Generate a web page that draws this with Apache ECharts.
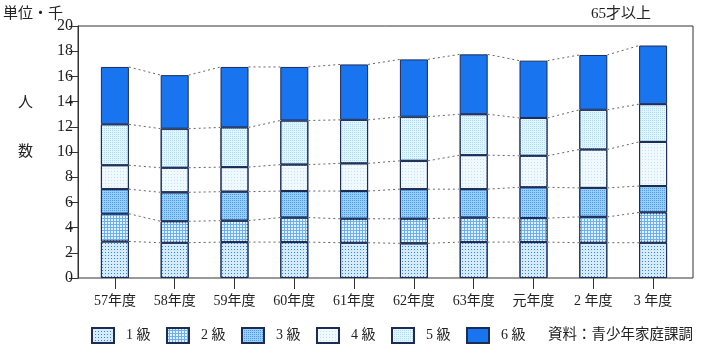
<!DOCTYPE html>
<html><head><meta charset="utf-8">
<script src="https://cdn.jsdelivr.net/npm/echarts@6/dist/echarts.min.js"></script>
<style>html,body{margin:0;padding:0;background:#fff}#c{width:704px;height:355px}</style>
</head><body><div id="c"></div>
<script>
const categories = ['57年度','58年度','59年度','60年度','61年度','62年度','63年度','元年度','2 年度','3 年度'];
const seriesNames = ['1 級','2 級','3 級','4 級','5 級','6 級'];
const lv1 = [2.9, 2.8, 2.85, 2.85, 2.8, 2.75, 2.85, 2.85, 2.8, 2.8];
const lv2 = [2.2, 1.7, 1.7, 1.95, 1.9, 1.95, 1.95, 1.9, 2.05, 2.4];
const lv3 = [1.95, 2.3, 2.3, 2.1, 2.2, 2.35, 2.25, 2.45, 2.3, 2.1];
const lv4 = [1.9, 1.95, 1.95, 2.1, 2.2, 2.25, 2.7, 2.5, 3.05, 3.5];
const lv5 = [3.25, 3.1, 3.15, 3.5, 3.45, 3.5, 3.25, 3.0, 3.15, 3.0];
const lv6 = [4.55, 4.25, 4.8, 4.25, 4.4, 4.55, 4.75, 4.55, 4.35, 4.65];
const yTicks = [0, 20, 2];

const levels = [lv1, lv2, lv3, lv4, lv5, lv6];
const BAR_W = 28;
const FONT = '"Liberation Serif", "Noto Sans CJK JP", serif';
const CJK = '"Noto Sans CJK JP", sans-serif';
const border = '#1d2c55';

const styles = [
  {color: '#d6ebfc', decal: {symbol: 'rect', symbolSize: 1, color: '#2f86f0', dashArrayX: [1, 2], dashArrayY: [1, 2]}},
  {color: '#6cb0f0', decal: {symbol: 'rect', symbolSize: 1, color: '#e2f1fe', dashArrayX: [2, 1], dashArrayY: [2, 1]}},
  {color: '#9dcef5', decal: {symbol: 'rect', symbolSize: 1, color: '#4f9cec', dashArrayX: [1, 1], dashArrayY: [1, 1]}},
  {color: '#f0f9ff', decal: {symbol: 'rect', symbolSize: 1, color: '#c2e3fa', dashArrayX: [1, 2], dashArrayY: [1, 2]}},
  {color: '#e4f5fd', decal: {symbol: 'rect', symbolSize: 1, color: '#b0dcf7', dashArrayX: [1, 1], dashArrayY: [1, 1]}},
  {color: '#1874ef'}
];

const barSeries = levels.map((arr, k) => ({
  name: seriesNames[k], type: 'bar', stack: 'a', xAxisIndex: 1, yAxisIndex: 1,
  barWidth: BAR_W, data: arr, silent: true,
  itemStyle: Object.assign({borderColor: border, borderWidth: 1}, styles[k])
}));

function cum(i) {
  const out = []; let s = 0;
  for (let k = 0; k < levels.length; k++) { s += levels[k][i]; out.push(s); }
  return out;
}

const linkSeries = {
  type: 'custom', xAxisIndex: 1, yAxisIndex: 1, silent: true, z: 1,
  data: categories.slice(0, -1).map((c, i) => [i]),
  renderItem: function (params, api) {
    const i = api.value(0);
    const a = cum(i), b = cum(i + 1);
    const children = a.map((v, k) => {
      const p1 = api.coord([i, v]);
      const p2 = api.coord([i + 1, b[k]]);
      return {type: 'line', shape: {x1: p1[0] + BAR_W / 2, y1: p1[1], x2: p2[0] - BAR_W / 2, y2: p2[1]},
        style: {stroke: '#666', lineWidth: 1, lineDash: [2, 3]}};
    });
    return {type: 'group', children: children};
  }
};

const chart = echarts.init(document.getElementById('c'), null, {renderer: 'canvas'});
chart.setOption({
  animation: false,
  backgroundColor: '#fff',
  grid: [
    {left: 78, right: 11, top: 26, bottom: 77, show: true, borderColor: '#333', borderWidth: 1, backgroundColor: 'transparent'},
    {left: 85, right: 21, top: 26, bottom: 77}
  ],
  xAxis: [
    {gridIndex: 0, type: 'value', show: false, min: 0, max: 1},
    {gridIndex: 1, type: 'category', data: categories,
      axisLine: {show: false},
      axisTick: {show: true, alignWithLabel: true, length: 11, lineStyle: {color: '#333'}},
      axisLabel: {margin: 16, fontSize: 14, color: '#222', fontFamily: FONT}}
  ],
  yAxis: [
    {gridIndex: 0, type: 'value', min: yTicks[0], max: yTicks[1], interval: yTicks[2],
      axisLine: {show: true, lineStyle: {color: '#333'}},
      axisTick: {show: true, length: 9, lineStyle: {color: '#333'}},
      axisLabel: {margin: 5, fontSize: 16, color: '#222', fontFamily: FONT},
      splitLine: {show: false}},
    {gridIndex: 1, type: 'value', min: yTicks[0], max: yTicks[1], show: false, splitLine: {show: false}}
  ],
  legend: {
    data: seriesNames, left: 86, top: 322, icon: 'rect', itemWidth: 22, itemHeight: 15, itemGap: 15.5,
    selectedMode: false,
    textStyle: {fontSize: 14, color: '#222', fontFamily: FONT, padding: [0, 0, 0, 7]}
  },
  graphic: [
    {type: 'text', left: 3, top: 5, style: {text: '単位・千', font: '15px ' + CJK, fill: '#222'}},
    {type: 'text', left: 591, top: 7, style: {text: '65才以上', font: '15px ' + FONT, fill: '#222'}},
    {type: 'text', left: 18, top: 94, style: {text: '人', font: '15px ' + CJK, fill: '#222'}},
    {type: 'text', left: 18, top: 143, style: {text: '数', font: '15px ' + CJK, fill: '#222'}},
    {type: 'text', left: 548, top: 326, style: {text: '資料：青少年家庭課調', font: '14.5px ' + CJK, fill: '#222'}}
  ],
  series: barSeries.concat([linkSeries])
});
</script></body></html>
